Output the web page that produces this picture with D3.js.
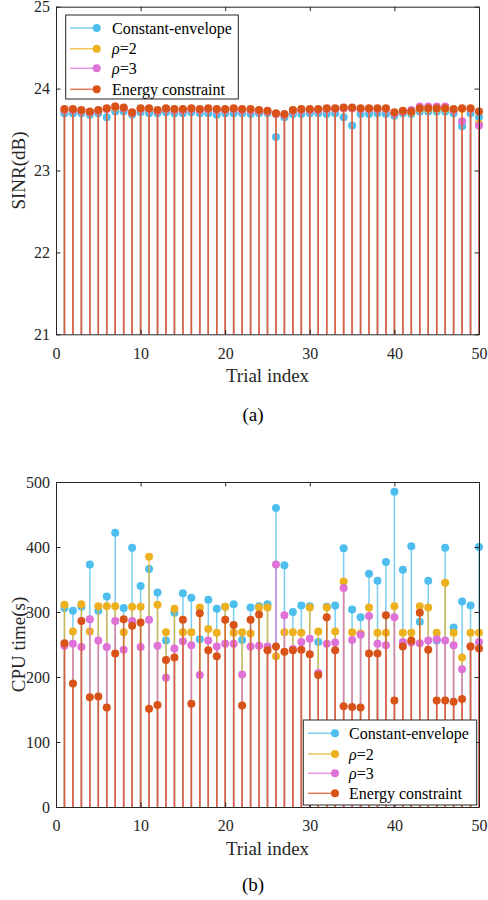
<!DOCTYPE html>
<html><head><meta charset="utf-8">
<script src="https://cdn.jsdelivr.net/npm/d3@7"></script>
<style>body{margin:0;background:#fff}svg{display:block}
svg text{font-family:"Liberation Serif","Times New Roman","DejaVu Serif",serif}</style>
</head><body>
<svg id="c" width="488" height="900"></svg>
<script>
// ---------- data ----------
const trials = [1,2,3,4,5,6,7,8,9,10,11,12,13,14,15,16,17,18,19,20,21,22,23,24,25,26,27,28,29,30,31,32,33,34,35,36,37,38,39,40,41,42,43,44,45,46,47,48,49,50];
const xTicks = [0,10,20,30,40,50];
const sinrTicks = [21,22,23,24,25];
const cpuTicks = [0,100,200,300,400,500];
const seriesNames = ["Constant-envelope","ρ=2","ρ=3","Energy constraint"];

const sinrCE = [23.70,23.70,23.70,23.68,23.70,23.65,23.72,23.72,23.68,23.71,23.70,23.70,23.71,23.70,23.70,23.71,23.70,23.70,23.68,23.70,23.70,23.70,23.69,23.70,23.70,23.41,23.65,23.69,23.69,23.70,23.70,23.69,23.70,23.65,23.55,23.69,23.69,23.70,23.69,23.67,23.70,23.69,23.72,23.72,23.72,23.72,23.70,23.54,23.70,23.65];
const sinrR2 = [23.74,23.74,23.73,23.71,23.73,23.75,23.77,23.76,23.70,23.75,23.75,23.73,23.75,23.74,23.74,23.75,23.74,23.75,23.74,23.74,23.75,23.74,23.74,23.73,23.72,23.69,23.68,23.73,23.74,23.74,23.74,23.75,23.75,23.76,23.76,23.75,23.75,23.75,23.75,23.70,23.72,23.71,23.75,23.75,23.75,23.75,23.74,23.75,23.75,23.57];
const sinrR3 = [23.74,23.74,23.73,23.71,23.73,23.75,23.78,23.76,23.70,23.75,23.75,23.73,23.75,23.74,23.74,23.75,23.74,23.75,23.74,23.74,23.75,23.74,23.74,23.73,23.72,23.69,23.68,23.73,23.74,23.74,23.74,23.75,23.75,23.76,23.76,23.75,23.75,23.75,23.75,23.70,23.72,23.74,23.78,23.78,23.78,23.78,23.74,23.60,23.75,23.55];
const sinrEC = [23.75,23.75,23.74,23.72,23.74,23.76,23.78,23.77,23.71,23.76,23.76,23.74,23.76,23.75,23.75,23.76,23.75,23.76,23.75,23.75,23.76,23.75,23.75,23.74,23.73,23.70,23.69,23.74,23.75,23.75,23.75,23.76,23.76,23.77,23.77,23.76,23.76,23.76,23.76,23.71,23.73,23.72,23.76,23.76,23.76,23.76,23.75,23.76,23.76,23.72];

const cpuCE = [306,302,308,373,302,324,422,306,399,340,366,330,256,299,329,322,258,319,305,308,312,257,307,309,312,460,372,300,310,309,254,308,310,398,304,292,359,348,377,485,365,401,285,348,256,399,276,316,310,400];
const cpuR2 = [311,270,312,270,309,309,309,269,308,308,385,311,269,305,269,269,307,274,268,308,268,269,267,307,307,232,269,269,268,307,270,307,270,347,269,267,307,268,268,309,268,268,309,307,268,345,268,230,268,268];
const cpuR3 = [248,251,246,289,256,246,286,242,286,246,288,248,199,244,255,249,203,256,247,251,251,204,247,248,247,373,295,243,254,259,206,251,253,337,257,265,294,251,249,292,254,253,252,256,258,256,249,212,247,254];
const cpuEC = [252,190,286,169,170,153,236,289,279,284,151,157,226,230,288,159,298,241,232,288,280,156,288,296,241,247,239,241,242,235,203,292,241,155,154,153,236,236,295,164,247,256,299,242,164,164,162,166,247,244];

const colors = ["#4DBEEE","#EDB120","#DE72D6","#D95319"];
const FONT = '"Liberation Serif","Times New Roman","DejaVu Serif",serif';
const TXT = "#262626";
const R = 4;

const svg = d3.select("#c");

function panel(cfg){
  const x = d3.scaleLinear().domain([0,50]).range([56,479]);
  const y = d3.scaleLinear().domain(cfg.domain).range([cfg.bottom, cfg.top]);
  const g = svg.append("g");
  // stems and markers
  cfg.series.forEach((vals,si)=>{
    const sg = g.append("g");
    sg.selectAll("line").data(trials).join("line")
      .attr("x1",d=>x(d)).attr("x2",d=>x(d))
      .attr("y1",y(cfg.domain[0])).attr("y2",(d,i)=>y(vals[i]))
      .attr("stroke",colors[si]).attr("stroke-width",1.5).attr("stroke-opacity",0.75);
    sg.selectAll("circle").data(trials).join("circle")
      .attr("cx",d=>x(d)).attr("cy",(d,i)=>y(vals[i])).attr("r",R)
      .attr("fill",colors[si]);
  });
  // axes
  const fmt = d3.format("d");
  const ax = (gen, tr)=> g.append("g").attr("transform",tr).call(gen)
      .call(s=>s.attr("font-family",null).attr("font-size",null))
      .call(s=>s.select(".domain").attr("stroke",TXT))
      .call(s=>s.selectAll(".tick line").attr("stroke",TXT))
      .call(s=>s.selectAll("text").attr("fill",TXT).style("font-family",FONT).style("font-size","16px"));
  ax(d3.axisBottom(x).tickValues(xTicks).tickFormat(fmt).tickSize(-4.5).tickSizeOuter(0).tickPadding(13), `translate(0,${cfg.bottom})`);
  ax(d3.axisTop(x).tickValues(xTicks).tickSize(-4.5).tickSizeOuter(0).tickFormat(""), `translate(0,${cfg.top})`);
  ax(d3.axisLeft(y).tickValues(cfg.ticks).tickFormat(fmt).tickSize(-4.5).tickSizeOuter(0).tickPadding(6), `translate(56,0)`);
  ax(d3.axisRight(y).tickValues(cfg.ticks).tickSize(-4.5).tickSizeOuter(0).tickFormat(""), `translate(479,0)`);
  // labels
  const txt = (sel)=>sel.style("font-family",FONT).style("font-size","19px");
  g.append("text").attr("x",267.5).attr("y",cfg.xlabY).attr("text-anchor","middle")
    .attr("fill",TXT).call(txt).text("Trial index");
  g.append("text").attr("transform",`translate(25,${(cfg.top+cfg.bottom)/2}) rotate(-90)`).attr("text-anchor","middle")
    .attr("fill",TXT).call(txt).text(cfg.ylabel);
  g.append("text").attr("x",253).attr("y",cfg.capY).attr("text-anchor","middle")
    .attr("fill","#000").call(txt).text(cfg.caption);
  // legend
  const L = cfg.legend;
  const lg = g.append("g");
  lg.append("rect").attr("x",L.x).attr("y",L.y).attr("width",L.w).attr("height",L.h)
    .attr("fill","#fff").attr("stroke","#262626").attr("stroke-width",1);
  seriesNames.forEach((nm,i)=>{
    const yy = L.rows[i];
    lg.append("line").attr("x1",L.lx0).attr("x2",L.lx1).attr("y1",yy).attr("y2",yy)
      .attr("stroke",colors[i]).attr("stroke-width",1.5).attr("stroke-opacity",0.75);
    lg.append("circle").attr("cx",L.lx1).attr("cy",yy).attr("r",R).attr("fill",colors[i]);
    const t = lg.append("text").attr("x",L.tx).attr("y",yy).attr("dy","0.35em")
      .style("font-family",FONT).style("font-size","16px").attr("fill","#000");
    if (nm.startsWith("ρ")) {
      t.append("tspan").attr("font-style","italic").text("ρ");
      t.append("tspan").text(nm.slice(1));
    } else t.text(nm);
  });
}

panel({domain:[21,25], top:6.7, bottom:334.3, ticks:sinrTicks, series:[sinrCE,sinrR2,sinrR3,sinrEC],
  ylabel:"SINR(dB)", xlabY:382, capY:421, caption:"(a)",
  legend:{x:65.7,y:15,w:172.6,h:84,lx0:70,lx1:96.7,tx:112,rows:[28,48.7,68.3,89.3]}});

panel({domain:[0,500], top:482, bottom:807, ticks:cpuTicks, series:[cpuCE,cpuR2,cpuR3,cpuEC],
  ylabel:"CPU time(s)", xlabY:855, capY:891, caption:"(b)",
  legend:{x:303.3,y:720,w:173.4,h:85,lx0:308,lx1:335,tx:349,rows:[733.3,754,773.3,793.3]}});
</script>
</body></html>
